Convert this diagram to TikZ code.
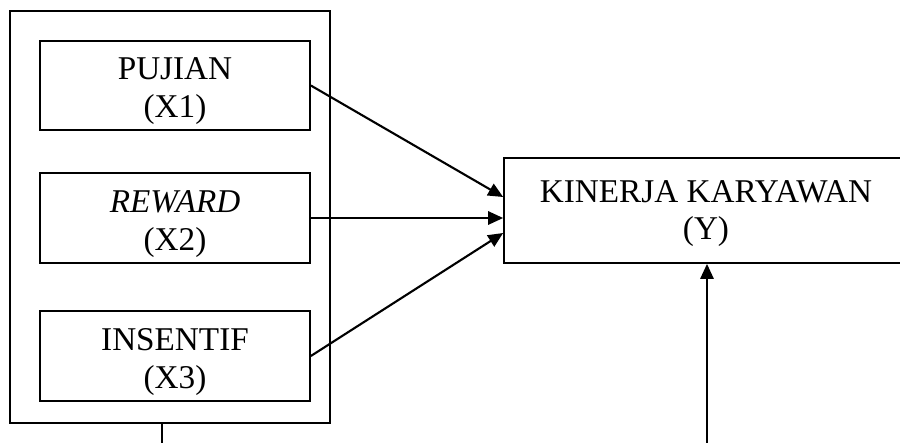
\documentclass[tikz,border=0pt]{standalone}
\usepackage{fontspec}
\setmainfont{Liberation Serif}
\usetikzlibrary{arrows.meta,calc}
\begin{document}
\begin{tikzpicture}[x=0.02cm,y=-0.02cm,
  box/.style={draw,line width=1pt,align=center,inner sep=0pt,
    font=\fontsize{18.9}{21.5}\selectfont},
  conn/.style={line width=1.2pt,-{Triangle[length=8.5pt,width=7.5pt]}},
  plain/.style={line width=1.2pt}]
\path[use as bounding box,clip] (0,0) rectangle (900,443);
\node[draw,line width=1.1pt,minimum width=6.4cm,minimum height=8.24cm] (outer) at (170,217) {};
\node[box,minimum width=5.4cm,minimum height=1.78cm] (b1) at (175,85.5) {\rule{0pt}{19pt}PUJIAN\\(X1)};
\node[box,minimum width=5.4cm,minimum height=1.8cm] (b2) at (175,218) {\rule{0pt}{19pt}\textit{REWARD}\\(X2)};
\node[box,minimum width=5.4cm,minimum height=1.8cm] (b3) at (175,356) {\rule{0pt}{19pt}INSENTIF\\(X3)};
\node[box,minimum width=8.08cm,minimum height=2.1cm] (y) at (706,210.5) {\rule{0pt}{16pt}KINERJA KARYAWAN\\(Y)};
\coordinate (stub) at (162,443);
\coordinate (base) at (707,443);
\draw[conn] (b1.east) -- ($(y.west)+(0,-13.5)$);
\draw[conn] (b2.east) -- (y.west |- b2.east);
\draw[conn] (b3.east) -- ($(y.west)+(0,22.5)$);
\draw[plain] (outer.south -| stub) -- (stub);
\draw[conn] (base) -- (y.south -| base);
\end{tikzpicture}
\end{document}
